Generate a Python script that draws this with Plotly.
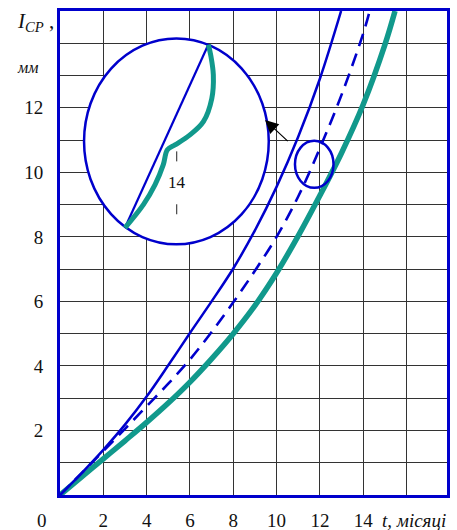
import plotly.graph_objects as go

# ---- data ----
t_solid = [0, 1, 2, 3, 4, 5, 6, 7, 8, 9, 10, 11, 12, 12.98]
i_solid = [0, 0.68, 1.4, 2.18, 3.05, 4.02, 5.02, 6.0, 7.02, 8.2, 9.55, 11.1, 12.9, 15.0]

t_dash = [0, 1, 2, 3, 4, 5, 6, 7, 8, 9, 10, 11, 12, 13, 14, 14.3]
i_dash = [0, 0.68, 1.36, 2.05, 2.75, 3.45, 4.2, 5.05, 5.97, 6.95, 8.0, 9.25, 10.75, 12.4, 14.3, 15.0]

t_teal = [0, 1, 2, 3, 4, 5, 6, 7, 8, 9, 10, 11, 12, 13, 14, 15, 15.47]
i_teal = [0, 0.56, 1.12, 1.68, 2.25, 2.85, 3.5, 4.22, 5.0, 5.87, 6.88, 8.03, 9.28, 10.6, 12.1, 13.95, 15.0]

# inset (magnified view) curves, drawn in the chart's own coordinates
t_inset_line = [3.0, 6.85]
i_inset_line = [8.28, 13.96]
t_inset_teal = [3.0, 3.85, 4.39, 4.77, 4.96, 5.31, 6.0, 6.62, 7.01, 7.08, 6.96, 6.85]
i_inset_teal = [8.28, 9.0, 9.62, 10.24, 10.70, 10.85, 11.16, 11.57, 12.29, 13.02, 13.63, 13.96]

x_ticks = [2, 4, 6, 8, 10, 12, 14, 16]
x_ticktext = ["2", "4", "6", "8", "10", "12", "14", " "]
y_ticks = list(range(1, 15))
y_ticktext = [str(v) if v % 2 == 0 and v <= 12 else " " for v in y_ticks]

# ---- styles / positions ----
BLUE = "#0000CC"
TEAL = "#11998C"
FONT = "Liberation Serif"

big_ellipse = dict(x0=1.11, x1=9.64, y0=7.77, y1=14.15)
small_ellipse = dict(x0=10.85, x1=12.63, y0=9.52, y1=10.98)
inset_label = (5.39, 9.67)

fig = go.Figure()

fig.add_trace(go.Scatter(x=t_inset_line, y=i_inset_line, mode="lines",
                         line=dict(color=BLUE, width=2.2), hoverinfo="skip"))
fig.add_trace(go.Scatter(x=t_inset_teal, y=i_inset_teal, mode="lines",
                         line=dict(color=TEAL, width=5, shape="spline"), hoverinfo="skip"))

fig.add_trace(go.Scatter(x=t_teal, y=i_teal, mode="lines",
                         line=dict(color=TEAL, width=5.5, shape="spline")))
fig.add_trace(go.Scatter(x=t_dash, y=i_dash, mode="lines",
                         line=dict(color=BLUE, width=2.6, dash="13px,8px", shape="spline")))
fig.add_trace(go.Scatter(x=t_solid, y=i_solid, mode="lines",
                         line=dict(color=BLUE, width=2.5, shape="spline")))

# inset circle (white, between grid and traces)
fig.add_shape(type="circle", xref="x", yref="y", layer="between",
              fillcolor="white", line=dict(color=BLUE, width=2.5), **big_ellipse)
fig.add_shape(type="circle", xref="x", yref="y", layer="above",
              line=dict(color=BLUE, width=2.5), **small_ellipse)
# short tick marks around the inset label
fig.add_shape(type="line", xref="x", yref="y", x0=inset_label[0], x1=inset_label[0],
              y0=10.34, y1=10.65, line=dict(color="#222", width=1), layer="between")
fig.add_shape(type="line", xref="x", yref="y", x0=inset_label[0], x1=inset_label[0],
              y0=8.70, y1=9.01, line=dict(color="#222", width=1), layer="between")
fig.add_annotation(x=inset_label[0], y=inset_label[1], text="14", showarrow=False,
                   font=dict(family=FONT, size=17, color="#111"))

# arrow from small circle to inset
fig.add_annotation(x=9.47, y=11.62, ax=10.7, ay=10.85, axref="x", ayref="y",
                   xref="x", yref="y", text=" ", showarrow=True,
                   arrowhead=2, arrowsize=2.2, arrowwidth=1.2, arrowcolor="black")

# axis titles and origin label
fig.add_annotation(xref="paper", yref="paper", x=-0.115, y=0.978, xanchor="left", yanchor="middle",
                   text="<i>I<sub>CP</sub></i> ,", showarrow=False,
                   font=dict(family=FONT, size=21, color="#111"))
fig.add_annotation(xref="paper", yref="paper", x=-0.083, y=0.884, xanchor="center", yanchor="middle",
                   text="<i>мм</i>", showarrow=False,
                   font=dict(family=FONT, size=16, color="#111"))
fig.add_annotation(xref="paper", yref="paper", x=-0.046, y=-0.052, xanchor="center", yanchor="middle",
                   text="0", showarrow=False,
                   font=dict(family=FONT, size=19, color="#111"))
fig.add_annotation(xref="paper", yref="paper", x=0.828, y=-0.052, xanchor="left", yanchor="middle",
                   text="<i>t, місяці</i>", showarrow=False,
                   font=dict(family=FONT, size=19, color="#111"))

fig.update_layout(
    width=457, height=530,
    margin=dict(l=60, r=10, t=11, b=35),
    paper_bgcolor="white", plot_bgcolor="white",
    showlegend=False,
    font=dict(family=FONT, size=19, color="#111"),
)
fig.update_xaxes(range=[0, 17.87], tickvals=x_ticks, ticktext=x_ticktext,
                 showgrid=True, gridcolor="#333", gridwidth=1, zeroline=False,
                 showline=True, linecolor=BLUE, linewidth=3, mirror=True,
                 ticks="", ticklabelstandoff=6, automargin=False)
fig.update_yaxes(range=[0, 15], tickvals=y_ticks, ticktext=y_ticktext,
                 showgrid=True, gridcolor="#333", gridwidth=1, zeroline=False,
                 showline=True, linecolor=BLUE, linewidth=3, mirror=True,
                 ticks="", ticklabelstandoff=10, automargin=False)

fig.write_html("out.html", config={"displayModeBar": False},
               post_script="document.body.style.margin='0';document.body.style.overflow='hidden';")
